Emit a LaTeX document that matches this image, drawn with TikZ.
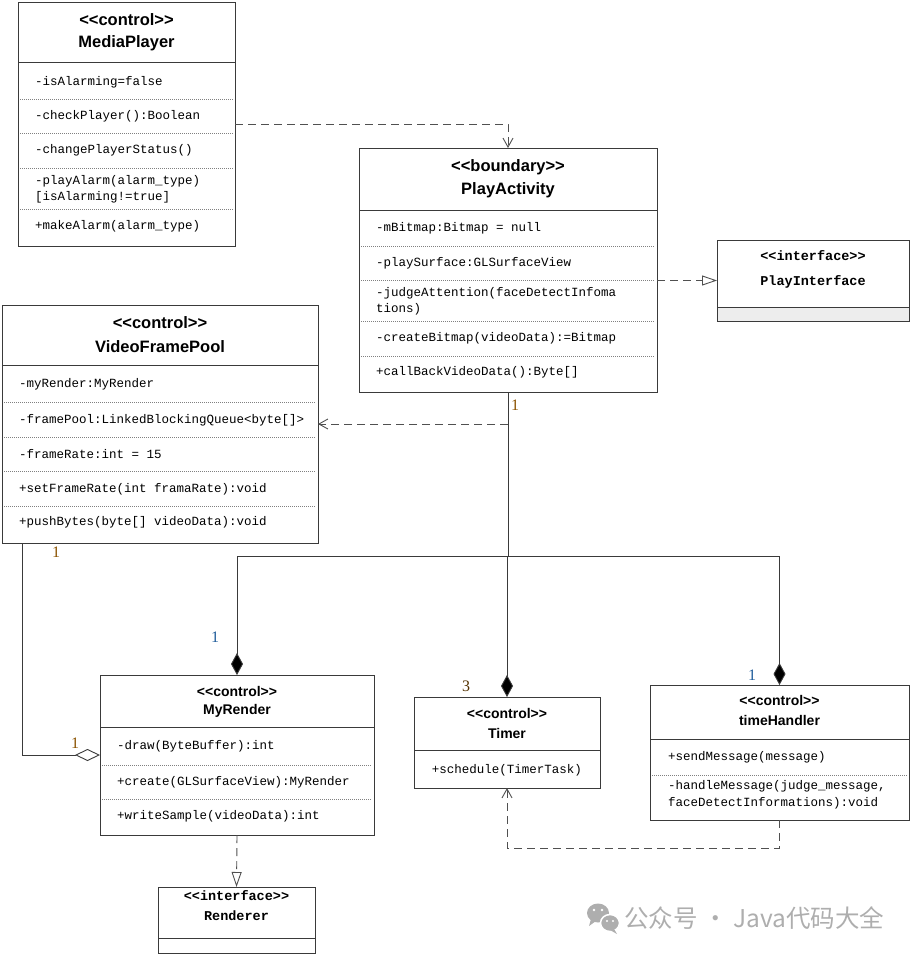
\documentclass[tikz,border=0pt]{standalone}
\usepackage{fontspec}
\setmainfont{Liberation Serif}
\newfontfamily\hdfont{Liberation Sans}
\newfontfamily\mofont{Liberation Mono}
\newfontfamily\cjkfont{Noto Sans CJK SC}
\usetikzlibrary{arrows.meta}
\definecolor{linec}{HTML}{3A3A3A}
\definecolor{dashc}{HTML}{505050}
\definecolor{dotc}{HTML}{808080}
\definecolor{wmc}{HTML}{AEAEAE}
\definecolor{orng}{HTML}{8A5200}
\definecolor{blu}{HTML}{1F5C9A}
\tikzset{
  box/.style={draw=linec, line width=0.9pt, fill=white, anchor=north west, inner sep=0pt, outer sep=0pt},
  divl/.style={draw=linec, line width=0.9pt},
  dotl/.style={draw=dotc, line width=0.6pt, dash pattern=on 1pt off 1pt},
  hd/.style={font=\hdfont\bfseries\fontsize{16.5}{19}\selectfont, inner sep=0pt},
  hds/.style={font=\hdfont\bfseries\fontsize{14}{16}\selectfont, inner sep=0pt},
  row/.style={font=\mofont\fontsize{12.5}{14}\selectfont, anchor=west, inner sep=0pt},
  itf/.style={font=\mofont\bfseries\fontsize{13.5}{15}\selectfont, inner sep=0pt},
  mult/.style={font=\fontsize{16}{18}\selectfont, inner sep=0pt},
  dep/.style={draw=dashc, line width=0.9pt, dash pattern=on 8pt off 5pt, -{Straight Barb[length=9pt,width=10pt,line width=0.9pt]}},
  real/.style={draw=dashc, line width=0.9pt, dash pattern=on 8pt off 5pt, -{Triangle[open,length=15pt,width=10pt,line width=0.9pt,fill=white]}},
  assoc/.style={draw=linec, line width=0.9pt},
  comp/.style={draw=linec, line width=0.9pt, -{Diamond[length=22pt,width=12pt,fill=black]}},
  agg/.style={draw=linec, line width=0.9pt, -{Diamond[open,length=25pt,width=12pt,fill=white]}},
}
\begin{document}
\begin{tikzpicture}[x=1pt,y=-1pt]
\useasboundingbox (0,0) rectangle (911,955);

% ---------- MediaPlayer ----------
\node[box, minimum width=217pt, minimum height=244pt] (mp) at (18,2) {};
\draw[divl] (18,62) -- (235,62);
\node[hd] (mps) at (126.5,20) {<\kern0pt<control>\kern0pt>};
\node[hd] (mpn) at (126.5,43) {MediaPlayer};
\node[row] (mp1) at (35,82) {-isAlarming=false};
\draw[dotl] (20,99) -- (233,99);
\node[row] (mp2) at (35,116) {-checkPlayer():Boolean};
\draw[dotl] (20,133) -- (233,133);
\node[row] (mp3) at (35,150) {-changePlayerStatus()};
\draw[dotl] (20,168) -- (233,168);
\node[row] (mp4) at (35,181) {-playAlarm(alarm\_type)};
\node[row] (mp5) at (35,197) {[isAlarming!=true]};
\draw[dotl] (20,209) -- (233,209);
\node[row] (mp6) at (35,226) {+makeAlarm(alarm\_type)};

% ---------- PlayActivity ----------
\node[box, minimum width=298pt, minimum height=244pt] (pa) at (359,148) {};
\draw[divl] (359,210) -- (657,210);
\node[hd] (pas) at (508,167) {<\kern0pt<boundary>\kern0pt>};
\node[hd] (pan) at (508,190) {PlayActivity};
\node[row] (pa1) at (376,228) {-mBitmap:Bitmap = null};
\draw[dotl] (361,246) -- (655,246);
\node[row] (pa2) at (376,263) {-playSurface:GLSurfaceView};
\draw[dotl] (361,280) -- (655,280);
\node[row] (pa3) at (376,293) {-judgeAttention(faceDetectInfoma};
\node[row] (pa4) at (376,309) {tions)};
\draw[dotl] (361,321) -- (655,321);
\node[row] (pa5) at (376,338) {-createBitmap(videoData):=Bitmap};
\draw[dotl] (361,356) -- (655,356);
\node[row] (pa6) at (376,372) {+callBackVideoData():Byte[]};

% ---------- PlayInterface ----------
\node[box, minimum width=192pt, minimum height=81pt] (pi) at (717,240) {};
\fill[black!7] (717,307) rectangle (909,321);
\draw[divl] (717,307) -- (909,307);
\draw[linec, line width=0.9pt] (717,240) rectangle (909,321);
\node[itf] (pis) at (813,256) {<\kern0pt<interface>\kern0pt>};
\node[itf] (pin) at (813,282) {PlayInterface};

% ---------- VideoFramePool ----------
\node[box, minimum width=316pt, minimum height=238pt] (vfp) at (2,305) {};
\draw[divl] (2,365) -- (318,365);
\node[hd] (vfs) at (160,323) {<\kern0pt<control>\kern0pt>};
\node[hd] (vfn) at (160,347) {VideoFramePool};
\node[row] (vf1) at (19,384) {-myRender:MyRender};
\draw[dotl] (4,402) -- (316,402);
\node[row] (vf2) at (19,420) {-framePool:LinkedBlockingQueue<byte[]>};
\draw[dotl] (4,437) -- (316,437);
\node[row] (vf3) at (19,454) {-frameRate:int = 15};
\draw[dotl] (4,471) -- (316,471);
\node[row] (vf4) at (19,489) {+setFrameRate(int framaRate):void};
\draw[dotl] (4,506) -- (316,506);
\node[row] (vf5) at (19,522) {+pushBytes(byte[] videoData):void};

% ---------- MyRender ----------
\node[box, minimum width=274pt, minimum height=160pt] (mr) at (100,675) {};
\draw[divl] (100,727) -- (374,727);
\node[hds] (mrs) at (237,691) {<\kern0pt<control>\kern0pt>};
\node[hds] (mrn) at (237,711) {MyRender};
\node[row] (mr1) at (117,746) {-draw(ByteBuffer):int};
\draw[dotl] (102,765) -- (372,765);
\node[row] (mr2) at (117,782) {+create(GLSurfaceView):MyRender};
\draw[dotl] (102,799) -- (372,799);
\node[row] (mr3) at (117,816) {+writeSample(videoData):int};

% ---------- Timer ----------
\node[box, minimum width=186pt, minimum height=91pt] (tm) at (414,697) {};
\draw[divl] (414,750) -- (600,750);
\node[hds] (tms) at (507,713) {<\kern0pt<control>\kern0pt>};
\node[hds] (tmn) at (507,733) {Timer};
\node[row, anchor=center] (tm1) at (507,770) {+schedule(TimerTask)};

% ---------- timeHandler ----------
\node[box, minimum width=259pt, minimum height=135pt] (th) at (650,685) {};
\draw[divl] (650,739) -- (909,739);
\node[hds] (ths) at (779.5,700) {<\kern0pt<control>\kern0pt>};
\node[hds] (thn) at (779.5,720) {timeHandler};
\node[row] (th1) at (668,757) {+sendMessage(message)};
\draw[dotl] (652,775) -- (907,775);
\node[row] (th2) at (668,786) {-handleMessage(judge\_message,};
\node[row] (th3) at (668,803) {faceDetectInformations):void};

% ---------- Renderer ----------
\node[box, minimum width=157pt, minimum height=66pt] (rd) at (158,887) {};
\draw[divl] (158,938) -- (315,938);
\node[itf] (rds) at (236.5,896) {<\kern0pt<interface>\kern0pt>};
\node[itf] (rdn) at (236.5,916) {Renderer};

% ---------- connectors ----------
\draw[dep] (mp.east) -| (pa.north);
\draw[real] (pa.east |- pi.west) -- (pi.west);
\draw[dep] (pa.south |- vfp.east) -- (vfp.east);
\coordinate (bus) at (508,556);
\draw[assoc] (pa.south) -- (bus);
\draw[comp] (bus) -| (mr.north);
\draw[comp] (bus) -- (bus -| tm.north) -- (tm.north);
\draw[comp] (bus) -| (th.north);
\coordinate (aggs) at (22,543);
\draw[agg] (aggs) |- (mr.west);
\draw[real] (mr.south) -- (rd.north);
\coordinate (thb) at (779.5,848);
\draw[dep] (th.south) -- (thb) -| (tm.south);

% ---------- multiplicities ----------
\node[mult, text=orng] (m1) at (515,405) {1};
\node[mult, text=orng] (m2) at (56,552) {1};
\node[mult, text=orng] (m3) at (75,743) {1};
\node[mult, text=blu] (m4) at (215,637) {1};
\node[mult, text=blu] (m5) at (752,675) {1};
\node[mult, text=orng!60!black] (m6) at (466,686) {3};

% ---------- watermark ----------
\fill[wmc] (598,913) ellipse (11 and 9.5);
\fill[wmc] (591,919) -- (589,926) -- (596,921) -- cycle;
\fill[wmc, draw=white, line width=1.5pt] (610,923) ellipse (9.5 and 8.5);
\fill[wmc] (614,929) -- (617,934) -- (610,930) -- cycle;
\fill[white] (594,910) circle (1.4) (602,910) circle (1.4) (607,921) circle (1.2) (613,921) circle (1.2);
\node[font=\cjkfont\fontsize{24.5}{28}\selectfont, text=wmc, anchor=west, inner sep=0pt] (wm) at (624,918) {公众号 · Java代码大全};
\end{tikzpicture}
\end{document}
